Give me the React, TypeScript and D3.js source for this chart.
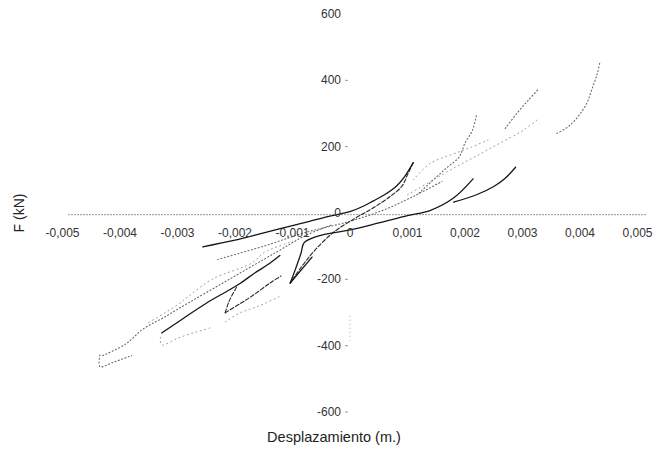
import React from "react";
import * as d3 from "d3";

type P = [number, number];

// Axis ticks
const xTicks = [-0.005, -0.004, -0.003, -0.002, -0.001, 0, 0.001, 0.002, 0.003, 0.004, 0.005];
const yTicks = [-600, -400, -200, 0, 200, 400, 600];

// Hysteresis branches: [displacement (m), force (kN)]
const c1Load: P[] = [[-0.00256, -102], [-0.002, -82], [-0.0015, -60], [-0.001, -38], [-0.0005, -16], [-0.0002, -4], [0, 4], [0.0002, 18], [0.0004, 36], [0.0006, 55], [0.0008, 80], [0.00095, 110], [0.0011, 152]];
const c1Unload: P[] = [[0.0011, 152], [0.001, 115], [0.0009, 80], [0.0007, 50], [0.0004, 15], [0.0001, -15], [-0.0003, -60], [-0.0007, -130], [-0.00104, -211]];
const c1Reload: P[] = [[-0.00104, -211], [-0.00095, -170], [-0.00085, -120], [-0.0008, -90], [-0.0006, -72], [-0.0003, -60], [0, -51], [0.0005, -30], [0.001, -8], [0.0014, 8], [0.0018, 45], [0.00214, 103]];
const c1Spur: P[] = [[-0.00104, -211], [-0.00066, -133]];
const c2Load: P[] = [[0.0018, 33], [0.0022, 55], [0.0025, 80], [0.0027, 105], [0.00288, 138]];
const c3NegLoad: P[] = [[-0.00327, -361], [-0.0029, -318], [-0.0025, -272], [-0.0021, -232], [-0.0019, -211], [-0.00165, -180], [-0.00144, -157], [-0.00122, -128]];
const c2NegV1: P[] = [[-0.00217, -301], [-0.0021, -265], [-0.00197, -223]];
const c2NegV2: P[] = [[-0.00217, -301], [-0.0019, -272], [-0.0017, -250], [-0.0014, -212], [-0.0012, -190]];

const c2Up: P[] = [[0.0012, 60], [0.0015, 108], [0.0017, 139], [0.0019, 169], [0.002, 211], [0.00213, 250], [0.0022, 296]];
const c2Mid: P[] = [[0.0011, 100], [0.0014, 150], [0.0018, 178], [0.0021, 198], [0.0024, 220]];
const c3Up: P[] = [[0.001, 55], [0.0014, 95], [0.0018, 135], [0.0022, 172], [0.0026, 210], [0.003, 248], [0.00327, 282]];
const c3Peak: P[] = [[0.0027, 255], [0.0029, 300], [0.0031, 340], [0.00327, 372]];
const c4Peak: P[] = [[0.0036, 240], [0.00383, 265], [0.0041, 325], [0.0042, 370], [0.0043, 420], [0.00435, 458]];

const c4NegUp: P[] = [[-0.0043, -430], [-0.0039, -395], [-0.0036, -350], [-0.00325, -316], [-0.0028, -270], [-0.0021, -200], [-0.00127, -117], [-0.00075, -66], [-0.0003, -35]];
const c4NegPeak: P[] = [[-0.00435, -428], [-0.00435, -463], [-0.0041, -449], [-0.0038, -430]];
const c3NegLow: P[] = [[-0.00327, -361], [-0.0033, -385], [-0.00327, -398], [-0.003, -378], [-0.0027, -360], [-0.0024, -345]];
const c2NegLow: P[] = [[-0.00217, -328], [-0.0019, -300], [-0.0017, -288], [-0.0015, -274], [-0.0012, -250]];
const c3NegMid: P[] = [[-0.0035, -330], [-0.003, -277], [-0.0028, -250], [-0.0024, -200], [-0.0017, -150], [-0.0015, -120], [-0.001, -85]];
const c1Gray: P[] = [[-0.0023, -140], [-0.0015, -100], [-0.0008, -60], [0, -25], [0.0006, 10], [0.0011, 50], [0.0016, 95]];

const styles: Record<string, { stroke: string; width: number; dash?: string }> = {
  solid: { stroke: "#151515", width: 1.3 },
  dashDark: { stroke: "#2a2a2a", width: 1.1, dash: "4,2" },
  dotGray: { stroke: "#666", width: 1.1, dash: "1,2.5" },
  dotLight: { stroke: "#999", width: 1, dash: "1,3.5" },
};

const strokes: { data: P[]; style: string }[] = [
  { data: c4NegUp, style: "dotGray" },
  { data: c4NegPeak, style: "dotGray" },
  { data: c3NegLow, style: "dotLight" },
  { data: c2NegLow, style: "dotLight" },
  { data: c3NegMid, style: "dotLight" },
  { data: c1Gray, style: "dotGray" },
  { data: c2Up, style: "dotGray" },
  { data: c2Mid, style: "dotLight" },
  { data: c3Up, style: "dotLight" },
  { data: c3Peak, style: "dotGray" },
  { data: c4Peak, style: "dotGray" },
  { data: c1Unload, style: "dashDark" },
  { data: c1Spur, style: "solid" },
  { data: c2NegV1, style: "dashDark" },
  { data: c2NegV2, style: "dashDark" },
  { data: c1Load, style: "solid" },
  { data: c1Reload, style: "solid" },
  { data: c2Load, style: "solid" },
  { data: c3NegLoad, style: "solid" },
];

const W = 660;
const H = 452;
const font = "'Liberation Sans', Arial, sans-serif";

export default function App() {
  const x = d3.scaleLinear().domain([-0.005, 0.005]).range([62.5, 637.5]);
  const y = d3.scaleLinear().domain([-600, 600]).range([412, 14]);
  const line = d3
    .line<P>()
    .x((d) => x(d[0]))
    .y((d) => y(d[1]))
    .curve(d3.curveCatmullRom.alpha(0.5));
  const fmt = (v: number) => (v === 0 ? "0" : String(+v.toFixed(3)).replace(".", ","));

  return (
    <svg
      width={W}
      height={H}
      style={{ position: "absolute", left: 0, top: 0, background: "#fff" }}
      fontFamily={font}
    >
      <rect width={W} height={H} fill="#fff" />
      {/* x axis (dotted) */}
      <line x1={x(-0.0049)} x2={x(0.00515)} y1={y(-5)} y2={y(-5)} stroke="#777" strokeWidth={1} strokeDasharray="1.5,1.5" />
      {/* fragment of y axis */}
      <line x1={x(0)} x2={x(0)} y1={y(-310)} y2={y(-392)} stroke="#aaa" strokeWidth={1} strokeDasharray="1,3" />
      {/* y tick dashes */}
      {yTicks
        .filter((t) => t !== 0 && t !== 600)
        .map((t) => (
          <line key={"yt" + t} x1={x(0) - 5} x2={x(0) - 2} y1={y(t)} y2={y(t)} stroke="#999" strokeWidth={1} />
        ))}
      {/* data */}
      {strokes.map((s, i) => {
        const st = styles[s.style];
        return (
          <path
            key={i}
            d={line(s.data) || ""}
            fill="none"
            stroke={st.stroke}
            strokeWidth={st.width}
            strokeDasharray={st.dash}
            strokeLinecap="round"
          />
        );
      })}
      {/* y tick labels */}
      {yTicks.map((t) => (
        <text key={"yl" + t} x={x(0) - 9} y={y(t) + 4} textAnchor="end" fontSize={12} fill="#333">
          {t === 0 ? "0" : String(t)}
        </text>
      ))}
      {/* x tick labels */}
      {xTicks.map((t) => (
        <text key={"xl" + t} x={x(t)} y={237} textAnchor="middle" fontSize={12} fill="#333">
          {fmt(t)}
        </text>
      ))}
      {/* axis titles */}
      <text x={334} y={442} textAnchor="middle" fontSize={14.5} fill="#222">
        Desplazamiento (m.)
      </text>
      <text transform={`translate(24,${y(0)}) rotate(-90)`} textAnchor="middle" fontSize={14} fill="#222">
        F (kN)
      </text>
    </svg>
  );
}
